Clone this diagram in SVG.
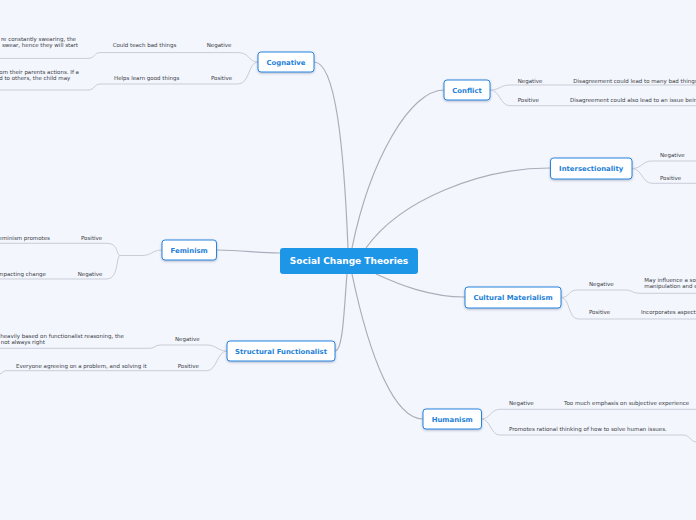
<svg xmlns="http://www.w3.org/2000/svg" width="696" height="520" viewBox="0 0 696 520">
<defs>
<filter id="sh" x="-20%" y="-30%" width="140%" height="170%">
<feDropShadow dx="0" dy="1" stdDeviation="0.8" flood-color="#3a4a66" flood-opacity="0.35"/>
</filter>
<style>
.main{fill:none;stroke:#a9aeba;stroke-width:1.2}
.sub{fill:none;stroke:#c9cdd7;stroke-width:1}
.node rect{fill:#ffffff;stroke:#2784df;stroke-width:1;filter:url(#sh)}
.node text{font-family:"DejaVu Sans",Verdana,sans-serif;font-weight:bold;font-size:6.9px;fill:#1d7fd8;text-anchor:middle}
.lbl{font-family:"DejaVu Sans",Verdana,sans-serif;font-size:5.5px;fill:#3a3d44}
.m{text-anchor:middle}
.e{text-anchor:end}
</style>
</defs>
<rect x="0" y="0" width="696" height="520" fill="#f3f6fd"/>
<g id="connectors">
<path class="main" d="M348,248 C344,150 336,62 314,62"/>
<path class="main" d="M352,248 C370,160 410,90 444,90"/>
<path class="main" d="M366,248 C400,200 480,168 550,168"/>
<path class="main" d="M280,253 C255,253 245,250 216,250"/>
<path class="main" d="M376,274 C400,285 430,297 465,297"/>
<path class="main" d="M347,274 C344,310 343,351 335,351"/>
<path class="main" d="M352,274 C370,360 395,419 423,419"/>
<path class="sub" d="M258,62 C248,62 250,52.6 238,52.6 L100,52.6 C94,52.6 95,58.4 88,58.4 L0,58.4"/>
<path class="sub" d="M258,62 C248,62 250,84 238,84 L100,84 C94,84 95,90 88,90 L0,90"/>
<path class="sub" d="M490,90 C500,90 500,85 510,85 L696,85"/>
<path class="sub" d="M490,90 C500,90 500,105.7 510,105.7 L696,105.7"/>
<path class="sub" d="M632,168.5 C642,168.5 642,161 652,161 L696,161"/>
<path class="sub" d="M632,168.5 C642,168.5 642,183.3 652,183.3 L696,183.3"/>
<path class="sub" d="M162,250 C152,250 152,255.5 142,255.5 L120,255.5"/>
<path class="sub" d="M120,255.5 C116,255.5 119,243.3 107,243.3 L0,243.3"/>
<path class="sub" d="M120,255.5 C116,255.5 119,279 107,279 L0,279"/>
<path class="sub" d="M227,351 C217,351 217,345 207,345 L160,345 C155,345 155,348.3 150,348.3 L0,348.3"/>
<path class="sub" d="M227,351 C217,351 217,370.7 207,370.7 L6,370.7 C3,370.7 3,373 0,374"/>
<path class="sub" d="M561,297.5 C570,297.5 568,290 577,290 L626,290 C632,290 632,293.3 640,293.3 L696,293.3"/>
<path class="sub" d="M561,297.5 C570,297.5 568,319 578,319 L696,319"/>
<path class="sub" d="M481,419 C491,419 490,409.3 500,409.3 L696,409.3"/>
<path class="sub" d="M481,419 C491,419 490,435 500,435 L683,435 C690,435 690,441 696,442"/>
</g>
<g id="root">
<rect x="280" y="248" width="138" height="26" rx="3" fill="#1e96e8"/>
<text x="349" y="264.3" font-family="DejaVu Sans,Verdana,sans-serif" font-weight="bold" font-size="9px" fill="#ffffff" text-anchor="middle">Social Change Theories</text>
</g>
<g id="cognative" class="node">
<rect x="258" y="52" width="56" height="20" rx="3"/>
<text x="286" y="64.5">Cognative</text>
</g>
<g id="cognative-children">
<text class="lbl m" x="219" y="47.2">Negative</text>
<text class="lbl m" x="144.5" y="47.2">Could teach bad things</text>
<text class="lbl e" x="76" y="40.7">re constantly swearing, the</text>
<text class="lbl e" x="78" y="46.7">swear, hence they will start</text>
<text class="lbl m" x="221.5" y="80.3">Positive</text>
<text class="lbl m" x="146.7" y="80.3">Helps learn good things</text>
<text class="lbl e" x="79" y="74.3">om their parents actions. If a</text>
<text class="lbl e" x="70.3" y="80.3">d to others, the child may</text>
</g>
<g id="conflict" class="node">
<rect x="444" y="80" width="46" height="20" rx="3"/>
<text x="467" y="92.5">Conflict</text>
</g>
<g id="conflict-children">
<text class="lbl" x="517.7" y="82.5">Negative</text>
<text class="lbl" x="573.3" y="82.5">Disagreement could lead to many bad things</text>
<text class="lbl" x="517.7" y="101.7">Positive</text>
<text class="lbl" x="570" y="101.7">Disagreement could also lead to an issue being</text>
</g>
<g id="intersectionality" class="node">
<rect x="550.5" y="158" width="81.5" height="21" rx="3"/>
<text x="591.2" y="171">Intersectionality</text>
</g>
<g id="intersectionality-children">
<text class="lbl" x="660" y="157">Negative</text>
<text class="lbl" x="660" y="179.5">Positive</text>
</g>
<g id="feminism" class="node">
<rect x="162" y="240" width="54.5" height="20" rx="3"/>
<text x="189.2" y="252.5">Feminism</text>
</g>
<g id="feminism-children">
<text class="lbl" x="81" y="240">Positive</text>
<text class="lbl e" x="50" y="240">eminism promotes</text>
<text class="lbl" x="77.7" y="276">Negative</text>
<text class="lbl e" x="46" y="276">mpacting change</text>
</g>
<g id="cultural-materialism" class="node">
<rect x="465" y="287" width="96" height="21" rx="3"/>
<text x="513" y="300">Cultural Materialism</text>
</g>
<g id="cultural-materialism-children">
<text class="lbl" x="589" y="286">Negative</text>
<text class="lbl" x="644.3" y="282.3">May influence a soc</text>
<text class="lbl" x="644.3" y="288">manipulation and e</text>
<text class="lbl" x="589" y="314.4">Positive</text>
<text class="lbl" x="641" y="314.4">Incorporates aspects</text>
</g>
<g id="structural-functionalist" class="node">
<rect x="227" y="341" width="108" height="20" rx="3"/>
<text x="281" y="353.5">Structural Functionalist</text>
</g>
<g id="structural-functionalist-children">
<text class="lbl" x="175" y="341">Negative</text>
<text class="lbl e" x="124" y="338">heavily based on functionalist reasoning, the</text>
<text class="lbl e" x="45" y="343.8">not always right</text>
<text class="lbl" x="177.7" y="367.5">Positive</text>
<text class="lbl" x="16" y="367.5">Everyone agreeing on a problem, and solving it</text>
</g>
<g id="humanism" class="node">
<rect x="423" y="409" width="58.5" height="20" rx="3"/>
<text x="452.2" y="421.5">Humanism</text>
</g>
<g id="humanism-children">
<text class="lbl" x="509" y="405">Negative</text>
<text class="lbl" x="564" y="405">Too much emphasis on subjective experience</text>
<text class="lbl" x="509" y="430.7">Promotes rational thinking of how to solve human issues.</text>
</g>
</svg>
